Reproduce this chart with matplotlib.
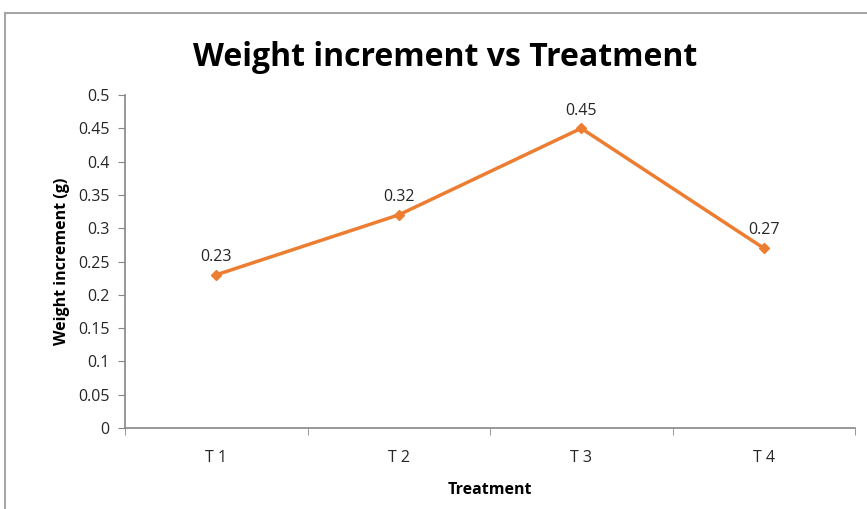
import matplotlib
matplotlib.use("Agg")
import matplotlib.pyplot as plt
from matplotlib.lines import Line2D

treatments = ["T 1", "T 2", "T 3", "T 4"]
weight_increment = [0.23, 0.32, 0.45, 0.27]
y_ticks = [0, 0.05, 0.1, 0.15, 0.2, 0.25, 0.3, 0.35, 0.4, 0.45, 0.5]
y_tick_labels = ["0", "0.05", "0.1", "0.15", "0.2", "0.25", "0.3", "0.35", "0.4", "0.45", "0.5"]

plt.rcParams["font.family"] = ["Open Sans", "DejaVu Sans"]

W, H = 867, 509
fig = plt.figure(figsize=(W / 100, H / 100), dpi=100)
fig.patch.set_facecolor("white")

# chart-area frame (left and top edges visible)
frame_col = "#a6a6a6"
fig.add_artist(Line2D([5 / W, 5 / W], [0, 1 - 13 / H], transform=fig.transFigure,
                      color=frame_col, lw=1.5))
fig.add_artist(Line2D([5 / W, 1], [1 - 13 / H, 1 - 13 / H], transform=fig.transFigure,
                      color=frame_col, lw=1.5))

ax = fig.add_axes([125 / W, 1 - 428 / H, (855 - 125) / W, (428 - 95) / H])
x = list(range(len(treatments)))
ax.plot(x, weight_increment, color="#ed7d31", lw=2.5, marker="D", ms=5,
        markeredgecolor="#ed7d31", markerfacecolor="#ed7d31", solid_joinstyle="round")

for xi, v in zip(x, weight_increment):
    ax.annotate(f"{v:.2f}", (xi, v), xytext=(0, 7), textcoords="offset points",
                ha="center", va="bottom", fontsize=11.5, color="#262626")

ax.set_xlim(-0.5, len(treatments) - 0.5)
ax.set_ylim(0, 0.5)
ax.set_yticks(y_ticks)
ax.set_yticklabels(y_tick_labels)
ax.set_xticks(x)
ax.set_xticklabels(treatments)
ax.set_xticks([i - 0.5 for i in range(len(treatments) + 1)], minor=True)

axis_col = "#868686"
for side in ["top", "right"]:
    ax.spines[side].set_visible(False)
for side in ["left", "bottom"]:
    ax.spines[side].set_color(axis_col)
    ax.spines[side].set_linewidth(1.2)

ax.tick_params(axis="y", direction="out", length=5, color=axis_col, labelsize=11.5,
               labelcolor="#262626", pad=6)
ax.tick_params(axis="x", which="major", length=0, labelsize=11.5, labelcolor="#262626", pad=16)
ax.tick_params(axis="x", which="minor", direction="out", length=5, color=axis_col)

ax.set_xlabel("Treatment", fontsize=11.5, fontweight="bold", labelpad=11)
ax.set_ylabel("Weight increment (g)", fontsize=11.5, fontweight="bold", labelpad=6)

fig.text(445 / W, 1 - 58 / H, "Weight increment vs Treatment", ha="center", va="center",
         fontsize=23, fontweight="bold", color="black")

fig.savefig("out.png", dpi=100)
